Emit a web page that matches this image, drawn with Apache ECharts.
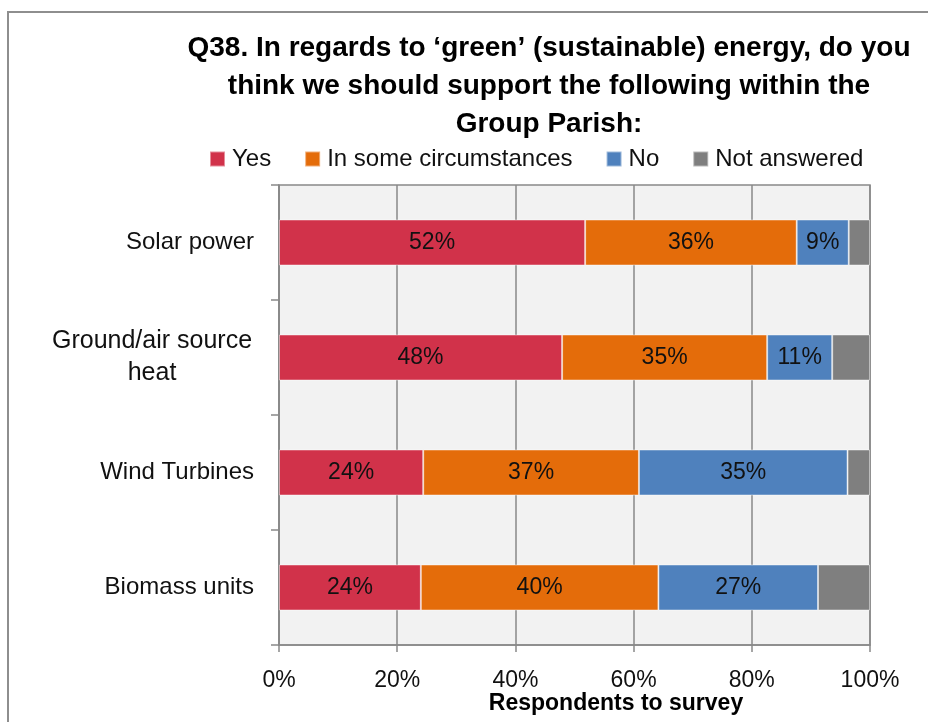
<!DOCTYPE html>
<html>
<head>
<meta charset="utf-8">
<script src="https://cdn.jsdelivr.net/npm/echarts@6/dist/echarts.min.js"></script>
<style>
html,body{margin:0;padding:0;background:#fff;}
#chart{width:928px;height:722px;}
</style>
</head>
<body>
<div id="chart"></div>
<script>
const categories = ['Solar power', 'Ground/air source heat', 'Wind Turbines', 'Biomass units'];
const seriesNames = ['Yes', 'In some circumstances', 'No', 'Not answered'];
const yesValues = [51.8, 47.9, 24.4, 24.0];
const someValues = [35.8, 34.7, 36.5, 40.2];
const noValues = [8.8, 11.0, 35.3, 27.0];
const notAnsweredValues = [3.6, 6.4, 3.8, 8.8];
const xTicks = [0, 20, 40, 60, 80, 100];
const colors = ['#D1324A', '#E46C0A', '#4F81BD', '#7F7F7F'];

const FONT = '"Liberation Sans", Arial, sans-serif';
const chart = echarts.init(document.getElementById('chart'), null, {renderer: 'canvas'});

const allValues = [yesValues, someValues, noValues, notAnsweredValues];
const series = allValues.map((vals, i) => ({
  name: seriesNames[i],
  type: 'bar',
  stack: 'total',
  barWidth: '40%',
  data: vals,
  itemStyle: {color: colors[i], borderColor: 'rgba(255,255,255,0.45)', borderWidth: 1},
  label: {
    show: i < 3,
    position: 'inside',
    color: '#111',
    fontFamily: FONT,
    fontSize: 23,
    formatter: p => Math.round(p.value) + '%'
  }
}));

chart.setOption({
  animation: false,
  title: {
    text: 'Q38. In regards to \u2018green\u2019 (sustainable) energy, do you\nthink we should support the following within the\nGroup Parish:',
    left: 544,
    top: 24,
    textAlign: 'center',
    textStyle: {fontFamily: FONT, fontWeight: 'bold', fontSize: 28, lineHeight: 38, color: '#000'}
  },
  legend: {
    data: seriesNames,
    left: 204,
    top: 142,
    icon: 'rect',
    itemWidth: 15,
    itemHeight: 15,
    itemGap: 33,
    textStyle: {fontFamily: FONT, fontSize: 24, color: '#111', padding: [0, 0, 0, 2]}
  },
  grid: {
    left: 279, right: 58, top: 185, bottom: 77,
    show: true,
    backgroundColor: '#F2F2F2',
    borderColor: '#898989',
    borderWidth: 1.5,
    containLabel: false
  },
  xAxis: {
    type: 'value',
    min: xTicks[0],
    max: xTicks[xTicks.length - 1],
    interval: 20,
    axisLine: {show: true, lineStyle: {color: '#898989', width: 1.5}},
    axisTick: {show: true, length: 7, lineStyle: {color: '#898989', width: 1.5}},
    splitLine: {show: true, lineStyle: {color: '#898989', width: 1.5}},
    axisLabel: {formatter: '{value}%', fontFamily: FONT, fontSize: 23, color: '#111', margin: 24}
  },
  yAxis: {
    type: 'category',
    inverse: true,
    data: categories,
    axisLine: {show: true, lineStyle: {color: '#898989', width: 1.5}},
    axisTick: {show: true, length: 8, lineStyle: {color: '#898989', width: 1.5}},
    axisLabel: {
      fontFamily: FONT, fontSize: 24, color: '#111', margin: 25,
      formatter: v => v === 'Ground/air source heat' ? '{c|Ground/air source}\n{c|heat}' : v,
      rich: {c: {fontFamily: FONT, fontSize: 25, color: '#111', width: 204, align: 'center', lineHeight: 32, padding: [0, 0, 0, 6]}}
    }
  },
  graphic: [
    {type: 'rect', shape: {x: 8, y: 12, width: 1000, height: 1000}, style: {fill: 'none', stroke: '#8E8E8E', lineWidth: 2}, silent: true},
    {type: 'text', x: 616, y: 704, style: {text: 'Respondents to survey', fontFamily: FONT, fontWeight: 'bold', fontSize: 23, fill: '#000', textAlign: 'center', textVerticalAlign: 'middle'}}
  ],
  series: series
});
</script>
</body>
</html>
